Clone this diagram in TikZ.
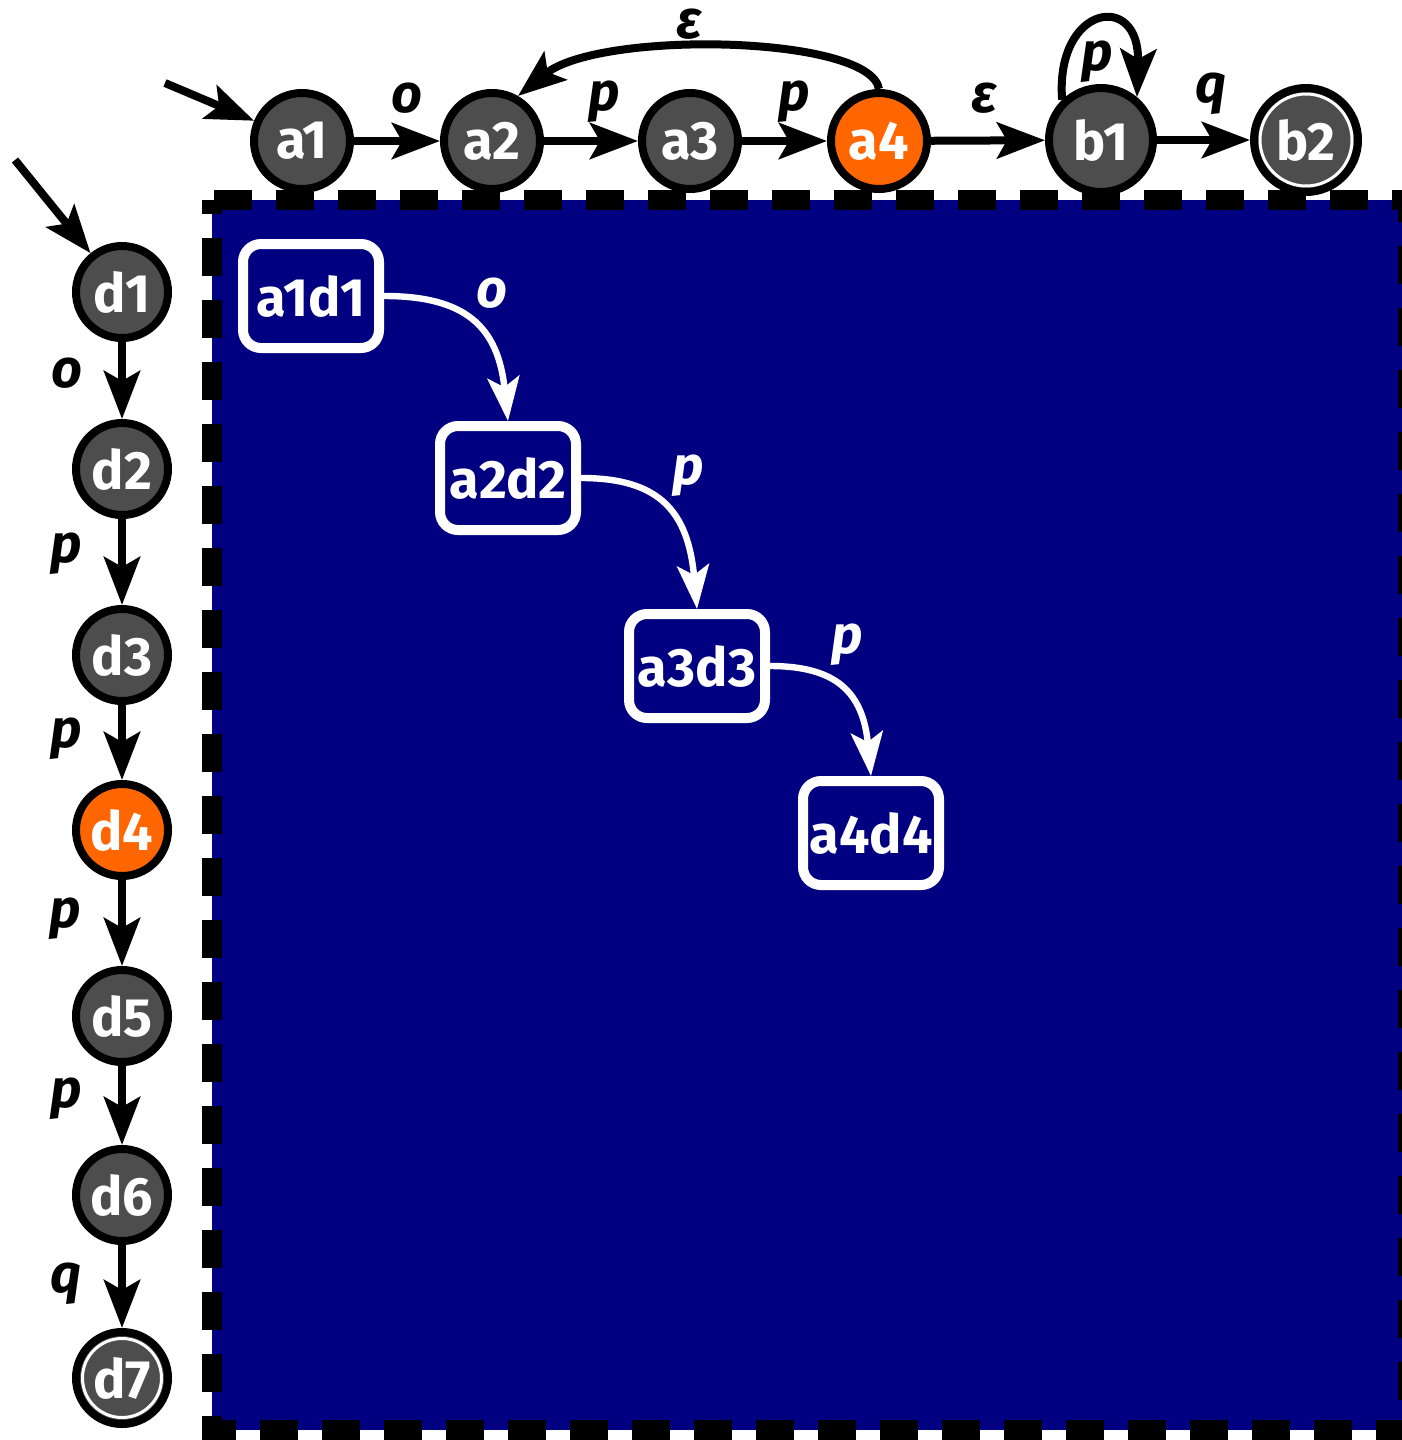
\documentclass[tikz,border=0pt]{standalone}
\usepackage{fontspec}
\setmainfont{Fira Sans}
\usetikzlibrary{arrows.meta}
\definecolor{stgray}{RGB}{77,77,77}
\definecolor{curorange}{RGB}{255,102,0}
\definecolor{prodnavy}{RGB}{0,0,128}

\begin{document}
\begin{tikzpicture}[x=0.5pt,y=-0.5pt,
  statefont/.style={font=\fontsize{27}{31}\selectfont\bfseries},
  lbl/.style={font=\fontsize{27}{31}\selectfont\bfseries\itshape, anchor=base, inner sep=0pt},
  st/.style={circle, draw=black, line width=4pt, fill=stgray, text=white, inner sep=0pt, statefont},
  asz/.style={minimum size=48pt},
  bsz/.style={minimum size=52pt},
  dsz/.style={minimum size=46pt},
  cur/.style={fill=curorange},
  acc/.style={path picture={\draw[white, line width=1.5pt] (path picture bounding box.center) circle[radius=#1];}},
  pair/.style={rectangle, rounded corners=9pt, draw=white, line width=5pt, fill=prodnavy, text=white,
    minimum width=68pt, minimum height=52pt, inner sep=0pt, statefont},
  tr/.style={line width=4pt, -{Stealth[length=24pt, width=18pt, inset=5pt]}},
  ptr/.style={white, line width=3.2pt, -{Stealth[length=22pt, width=16pt, inset=5pt]}},
  prodarea/.style={draw=black, fill=prodnavy, line width=10pt, dash pattern=on 19pt off 12pt, dash phase=12pt}
]
\useasboundingbox (0,0) rectangle (1402,1440);

% product area
\path[prodarea] (212,200) rectangle (1408,1430);

% first automaton (top row)
\node[st, asz] (a1) at (302,141) {a1};
\node[st, asz] (a2) at (492,141) {a2};
\node[st, asz] (a3) at (690,141) {a3};
\node[st, asz, cur] (a4) at (879,141) {a4};
\node[st, bsz] (b1) at (1101,140) {b1};
\node[st, bsz, acc=23pt] (b2) at (1306,140) {b2};

\coordinate (ia) at (165,83);
\draw[tr] (ia) -- (a1);
\draw[tr] (a1) -- (a2) node[lbl] at (407,112) {o};
\draw[tr] (a2) -- (a3) node[lbl] at (604,110) {p};
\draw[tr] (a3) -- (a4) node[lbl] at (794,110) {p};
\draw[tr] (a4) -- (b1) node[lbl] at (985,112) {ε};
\draw[tr] (b1) -- (b2) node[lbl] at (1211,102) {q};
\draw[tr] (a4.north) .. controls (870,35) and (600,30) .. (a2.60) node[lbl] at (690,39) {ε};
\draw[tr] (b1.134) .. controls (1055,5) and (1140,-10) .. (b1.50) node[lbl] at (1097,70) {p};

% second automaton (left column)
\node[st, dsz] (d1) at (122,292) {d1};
\node[st, dsz] (d2) at (122,469) {d2};
\node[st, dsz] (d3) at (122,655) {d3};
\node[st, dsz, cur] (d4) at (122,830) {d4};
\node[st, dsz] (d5) at (122,1016) {d5};
\node[st, dsz] (d6) at (122,1195) {d6};
\node[st, dsz, acc=19.75pt] (d7) at (122,1378) {d7};

\coordinate (id) at (15,160);
\draw[tr] (id) -- (d1);
\draw[tr] (d1) -- (d2) node[lbl] at (67,387) {o};
\draw[tr] (d2) -- (d3) node[lbl] at (66,562) {p};
\draw[tr] (d3) -- (d4) node[lbl] at (66,747) {p};
\draw[tr] (d4) -- (d5) node[lbl] at (65,927) {p};
\draw[tr] (d5) -- (d6) node[lbl] at (66,1107) {p};
\draw[tr] (d6) -- (d7) node[lbl] at (66,1292) {q};

% reachable product states
\node[pair] (p1) at (311,296) {a1d1};
\node[pair] (p2) at (508,478) {a2d2};
\node[pair] (p3) at (697,666) {a3d3};
\node[pair] (p4) at (871,833) {a4d4};

\draw[ptr] (p1.east) .. controls (465,296) and (498,326) .. (p2.north)
  node[lbl, text=white] at (492,307) {o};
\draw[ptr] (p2.east) .. controls (657,478) and (688,509) .. (p3.north)
  node[lbl, text=white] at (688,484) {p};
\draw[ptr] (p3.east) .. controls (836,666) and (863,692) .. (p4.north)
  node[lbl, text=white] at (847,653) {p};
\end{tikzpicture}
\end{document}
